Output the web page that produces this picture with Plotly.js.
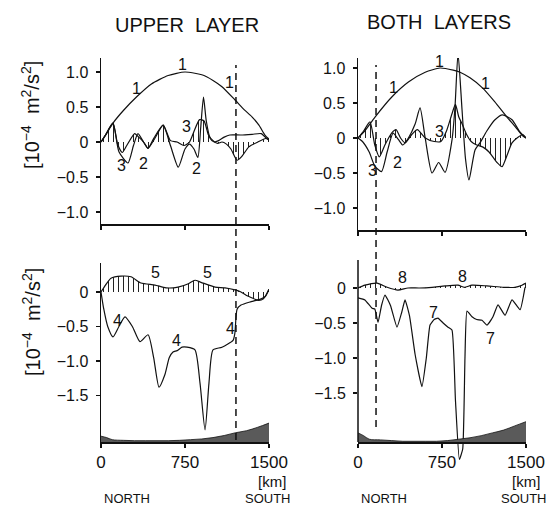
<!DOCTYPE html>
<html><head><meta charset="utf-8">
<script src="https://cdn.plot.ly/plotly-3.0.1.min.js"></script>
<style>html,body{margin:0;padding:0;background:#fff}</style>
</head><body><div id="chart" style="width:550px;height:514px"></div>
<script>
// ---------- data (km along section, 10^-4 m^2/s^2) ----------
const xTicks = [0, 750, 1500];
const xTickText = ['0', '750', '1500'];
const topTicks = [-1.0, -0.5, 0, 0.5, 1.0];
const topTickText = ['\u22121.0', '\u22120.5', '0', '0.5', '1.0'];
const botTicks = [-1.5, -1.0, -0.5, 0];
const botTickText = ['\u22121.5', '\u22121.0', '\u22120.5', '0'];

// UPPER LAYER, top panel
const ul1X = [0,50,107,200,321,450,600,750,900,1000,1080,1197,1280,1348,1410,1464,1500];
const ul1Y = [0.0,0.12,0.27,0.45,0.65,0.83,0.95,1.0,0.96,0.88,0.79,0.60,0.46,0.36,0.24,0.10,0.04];
const ul2X = [0,40,107,160,241,290,330,380,420,480,555,620,690,750,790,830,865,890,915,940,975,1010,1050,1100,1150,1250,1350,1430,1480,1500];
const ul2Y = [0.0,0.1,0.27,-0.14,-0.3,-0.05,0.12,0.0,-0.09,0.05,0.24,-0.05,-0.36,-0.1,-0.03,-0.1,-0.22,0.2,0.64,0.3,0.05,0.0,0.02,0.07,0.1,0.1,0.11,0.12,0.05,0.03];
const ul3X = [0,40,107,150,190,230,300,330,380,420,470,555,620,680,740,790,830,880,920,960,1000,1040,1080,1120,1160,1215,1260,1320,1400,1470,1500];
const ul3Y = [0.0,0.1,0.27,-0.04,-0.15,-0.05,0.12,0.08,0.0,-0.09,0.05,0.24,0.02,0.0,-0.05,0.0,0.15,0.32,0.3,0.1,0.02,-0.02,0.0,-0.03,-0.1,-0.26,-0.2,-0.07,0.0,0.05,0.03];

// BOTH LAYERS, top panel
const bl1X = [0,60,152,304,450,600,732,850,911,1000,1116,1220,1330,1410,1470,1500];
const bl1Y = [0.0,0.1,0.3,0.59,0.8,0.94,1.0,0.97,0.94,0.86,0.71,0.52,0.3,0.15,0.03,0.0];
const bl2X = [0,40,100,150,210,260,313,360,400,450,510,554,600,661,720,777,839,866,893,929,960,991,1045,1089,1150,1223,1290,1375,1440,1500];
const bl2Y = [0.0,-0.05,-0.2,-0.4,-0.48,-0.2,0.07,-0.02,-0.1,0.0,0.2,0.43,0.0,-0.5,-0.35,-0.49,-0.03,0.44,1.21,0.4,-0.3,-0.6,-0.17,-0.07,0.1,0.26,0.33,0.26,0.1,0.0];
const bl3X = [0,50,107,150,190,240,300,340,380,420,480,530,600,680,740,790,840,870,900,930,970,1010,1060,1116,1170,1241,1286,1330,1375,1420,1470,1500];
const bl3Y = [0.0,0.1,0.23,-0.1,-0.27,-0.1,0.07,0.12,0.0,-0.07,0.05,0.12,0.0,-0.05,-0.05,0.1,0.35,0.48,0.3,0.2,0.05,-0.05,-0.1,-0.13,-0.2,-0.35,-0.41,-0.25,-0.07,0.0,0.05,0.0];

// UPPER LAYER, bottom panel
const ul4X = [0,25,60,107,160,214,280,348,420,470,518,570,610,643,680,723,768,839,884,929,964,1000,1080,1179,1195,1215,1250,1340,1430,1470,1500];
const ul4Y = [0.0,-0.25,-0.5,-0.65,-0.5,-0.36,-0.5,-0.72,-0.62,-0.95,-1.38,-1.2,-0.95,-0.87,-0.85,-0.8,-0.8,-0.84,-1.32,-2.0,-1.32,-0.84,-0.8,-0.7,-0.6,-0.25,-0.19,-0.14,-0.1,-0.06,0.04];
const ul5X = [0,40,89,179,268,357,482,580,688,780,839,893,1018,1107,1197,1250,1300,1340,1400,1450,1500];
const ul5Y = [0.0,0.1,0.2,0.23,0.22,0.13,0.1,0.06,0.07,0.12,0.17,0.14,0.07,0.06,0.03,0.0,-0.05,-0.08,-0.12,-0.1,0.04];

// BOTH LAYERS, bottom panel
const bl7X = [0,62,125,150,179,210,241,290,348,390,420,460,510,571,610,643,680,714,760,804,839,870,905,935,955,973,1018,1060,1107,1152,1205,1250,1313,1375,1447,1491];
const bl7Y = [-0.14,-0.17,-0.29,-0.3,-0.49,-0.25,-0.1,-0.25,-0.56,-0.35,-0.17,-0.4,-0.95,-1.41,-1.0,-0.53,-0.45,-0.43,-0.5,-0.56,-0.6,-1.6,-2.45,-2.3,-1.0,-0.33,-0.41,-0.45,-0.46,-0.53,-0.41,-0.24,-0.39,-0.17,-0.31,0.01];
const bl8X = [0,62,170,260,357,446,550,661,780,893,950,1018,1150,1300,1400,1464,1500];
const bl8Y = [0.0,0.04,0.07,0.01,-0.03,0.0,0.0,0.01,0.03,0.04,0.01,0.04,0.03,0.01,0.01,0.04,0.07];

// bottom topography (shaded), same units as the lower axes
const topoX = [0,50,100,200,300,400,500,600,700,800,900,1000,1100,1200,1300,1400,1500];
const topoUL = [-2.09,-2.11,-2.14,-2.15,-2.155,-2.155,-2.155,-2.155,-2.15,-2.14,-2.13,-2.11,-2.08,-2.04,-2.01,-1.96,-1.90];
const topoBL = [-2.07,-2.11,-2.16,-2.17,-2.18,-2.19,-2.19,-2.19,-2.19,-2.18,-2.16,-2.14,-2.11,-2.07,-2.03,-1.97,-1.91];

// dashed section boundaries (km)
const dashUL = 1205;
const dashBL = 161;

// curve labels: [text, km, value]
const labTL = [['1',321,0.77],['1',732,1.11],['1',1143,0.85],['3',187,-0.33],['2',375,-0.31],['3',759,0.22],['2',857,-0.38]];
const labTR = [['1',313,0.72],['1',725,1.1],['1',1134,0.78],['2',902,1.33],['3',128,-0.47],['2',357,-0.35],['3',732,0.1]];
const labBL = [['5',491,0.28],['5',955,0.28],['4',143,-0.42],['4',670,-0.71],['4',1152,-0.53]];
const labBR = [['8',393,0.15],['8',929,0.16],['7',670,-0.35],['7',1179,-0.72]];

// ---------- figure ----------
const W = 550, H = 514;
const FONT = 'Liberation Sans, Arial, Helvetica, sans-serif';
const INK = '#111';
const px = v => v / W, py = v => 1 - v / H;

const rangeTL = [-1.171, 1.2], rangeTR = [-1.314, 1.143];
const rangeBL = [-2.174, 0.42], rangeBR = [-2.486, 0.4];
const axisBR = -2.2;

function ln(x, y, xa, ya, extra) {
  return Object.assign({
    type: 'scatter', mode: 'lines', x: x, y: y, xaxis: xa, yaxis: ya,
    line: {color: INK, width: 1.2, shape: 'spline', smoothing: 0.6},
    hoverinfo: 'skip', showlegend: false
  }, extra || {});
}
const hatch = {fill: 'tozeroy', fillcolor: 'rgba(0,0,0,0)',
  fillpattern: {shape: '|', size: 5, solidity: 0.2, fgcolor: '#222'}};

const traces = [
  ln(ul3X, ul3Y, 'x', 'y', hatch),
  ln(ul1X, ul1Y, 'x', 'y'),
  ln(ul2X, ul2Y, 'x', 'y'),
  ln(bl3X, bl3Y, 'x2', 'y2', hatch),
  ln(bl1X, bl1Y, 'x2', 'y2'),
  ln(bl2X, bl2Y, 'x2', 'y2'),
  ln(ul5X, ul5Y, 'x3', 'y3', hatch),
  ln(ul4X, ul4Y, 'x3', 'y3'),
  ln([0, 1500], [rangeBL[0], rangeBL[0]], 'x3', 'y3', {line: {width: 0, color: INK}}),
  ln(topoX, topoUL, 'x3', 'y3', {fill: 'tonexty', fillcolor: '#5a5a5a', line: {width: 0.8, color: INK, shape: 'spline'}}),
  ln(bl8X, bl8Y, 'x4', 'y4', hatch),
  ln(bl7X, bl7Y, 'x4', 'y4', {line: {color: INK, width: 1.2, shape: 'spline', smoothing: 0.4}}),
  ln([0, 1500], [axisBR, axisBR], 'x4', 'y4', {line: {width: 0, color: INK}}),
  ln(topoX, topoBL, 'x4', 'y4', {fill: 'tonexty', fillcolor: '#5a5a5a', line: {width: 0.8, color: INK, shape: 'spline'}})
];

const xL = [px(101), px(269)], xR = [px(358), px(526)];
const axCommon = {showgrid: false, zeroline: false, showline: true, linecolor: INK, linewidth: 1.5,
  ticks: 'outside', ticklen: 4, tickcolor: INK, tickwidth: 1.2, fixedrange: true};
const xCommon = Object.assign({}, axCommon, {range: [0, 1500], tickmode: 'array', tickvals: xTicks, ticktext: xTickText,
  tickfont: {family: FONT, size: 17, color: INK}});
const yTop = Object.assign({}, axCommon, {tickmode: 'array', tickvals: topTicks, ticktext: topTickText,
  tickfont: {family: FONT, size: 16, color: INK}, ticklabelstandoff: 4});
const yBot = Object.assign({}, axCommon, {tickmode: 'array', tickvals: botTicks, ticktext: botTickText,
  tickfont: {family: FONT, size: 16, color: INK}, ticklabelstandoff: 4});

const layout = {
  width: W, height: H, margin: {l: 0, r: 0, t: 0, b: 0},
  paper_bgcolor: '#fff', plot_bgcolor: 'rgba(0,0,0,0)', showlegend: false,
  font: {family: FONT, color: INK},
  xaxis: Object.assign({}, xCommon, {domain: xL, anchor: 'y', showticklabels: false}),
  yaxis: Object.assign({}, yTop, {domain: [py(224), py(58)], anchor: 'x', range: rangeTL}),
  xaxis2: Object.assign({}, xCommon, {domain: xR, anchor: 'y2', showticklabels: false}),
  yaxis2: Object.assign({}, yTop, {domain: [py(230), py(58)], anchor: 'x2', range: rangeTR}),
  xaxis3: Object.assign({}, xCommon, {domain: xL, anchor: 'y3'}),
  yaxis3: Object.assign({}, yBot, {domain: [py(442), py(263)], anchor: 'x3', range: rangeBL}),
  xaxis4: Object.assign({}, xCommon, {domain: xR, anchor: 'free', position: py(442)}),
  yaxis4: Object.assign({}, yBot, {domain: [py(462), py(260)], anchor: 'x4', range: rangeBR, showline: false}),
  shapes: [
    {type: 'line', xref: 'x', yref: 'paper', x0: dashUL, x1: dashUL, y0: py(440), y1: py(65),
     line: {color: INK, width: 1.5, dash: '7px,5px'}},
    {type: 'line', xref: 'x2', yref: 'paper', x0: dashBL, x1: dashBL, y0: py(427), y1: py(65),
     line: {color: INK, width: 1.5, dash: '7px,5px'}},
    {type: 'line', xref: 'x4 domain', yref: 'y4', x0: 0, x1: 0, y0: axisBR, y1: rangeBR[1],
     line: {color: INK, width: 1.5}}
  ],
  annotations: []
};

function addLabels(list, xa, ya) {
  list.forEach(l => layout.annotations.push({text: l[0], x: l[1], y: l[2], xref: xa, yref: ya,
    xanchor: 'center', yanchor: 'middle',
    showarrow: false, font: {family: FONT, size: 16, color: INK}}));
}
addLabels(labTL, 'x', 'y');
addLabels(labTR, 'x2', 'y2');
addLabels(labBL, 'x3', 'y3');
addLabels(labBR, 'x4', 'y4');

function pa(text, x, y, size, angle) {
  layout.annotations.push({text: text, x: px(x), y: py(y), xref: 'paper', yref: 'paper',
    xanchor: 'center', yanchor: 'middle',
    showarrow: false, textangle: angle || 0, font: {family: FONT, size: size, color: INK}});
}
pa('UPPER&nbsp;&nbsp;LAYER', 187, 25, 20);
pa('BOTH&nbsp;&nbsp;LAYERS', 439, 22, 20);
const yTitle = '[10<sup>\u22124</sup>&nbsp;&nbsp;m<sup>2</sup>/s<sup>2</sup>]';
pa(yTitle, 31, 115, 20, -90);
pa(yTitle, 31, 322, 20, -90);
pa('[km]', 272, 481, 15);
pa('[km]', 526, 481, 15);
pa('NORTH', 127, 498, 13);
pa('SOUTH', 268, 498, 13);
pa('NORTH', 384, 498, 13);
pa('SOUTH', 524, 498, 13);

Plotly.newPlot('chart', traces, layout, {staticPlot: true, displayModeBar: false});
</script></body></html>
